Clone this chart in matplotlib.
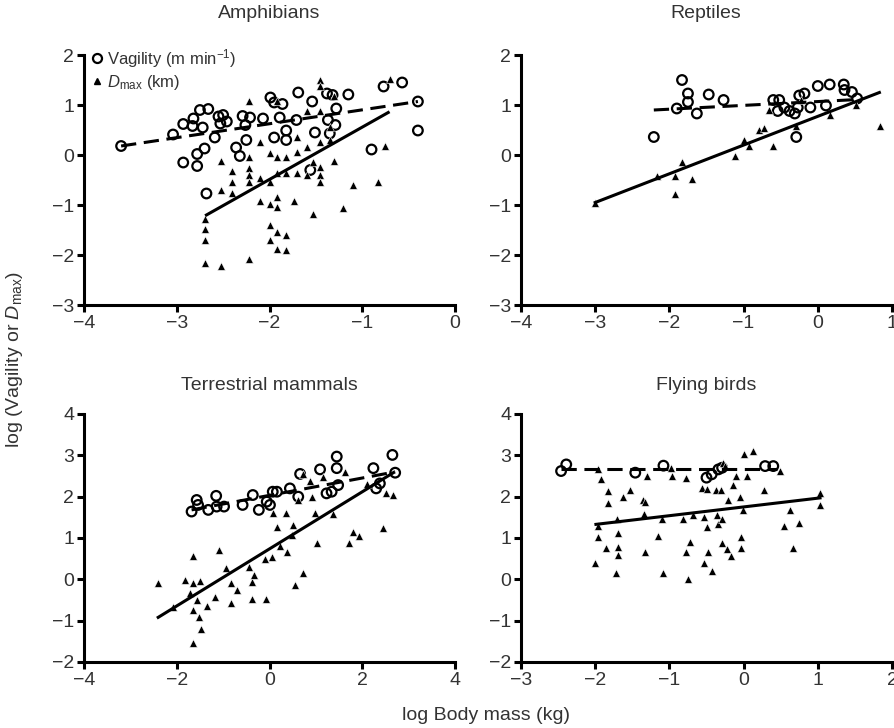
import matplotlib
matplotlib.use("Agg")
import matplotlib.pyplot as plt
from matplotlib.lines import Line2D

plt.rcParams['font.family'] = ['Liberation Sans', 'DejaVu Sans']
plt.rcParams['mathtext.fontset'] = 'custom'
plt.rcParams['mathtext.rm'] = 'Liberation Sans'
plt.rcParams['mathtext.it'] = 'Liberation Sans:italic'

# ---------------- Amphibians ----------------
amph_vag_x = [-3.60, -3.04, -2.93, -2.82, -2.83, -2.75, -2.66, -2.72, -2.93, -2.78, -2.78, -2.70,
              -2.68, -2.59, -2.55, -2.50, -2.46, -2.53, -2.36, -2.32, -2.29, -2.26, -2.25, -2.21,
              -2.07, -1.99, -1.95, -1.86, -1.89, -1.95, -1.82, -1.82, -1.71, -1.69, -1.54, -1.51,
              -1.56, -1.38, -1.32, -1.28, -1.29, -1.35, -1.15, -0.90, -0.77, -0.57, -0.40, -0.40,
              -1.37]
amph_vag_y = [0.18, 0.41, 0.62, 0.73, 0.58, 0.90, 0.92, 0.55, -0.15, 0.02, -0.22, 0.13,
              -0.77, 0.35, 0.77, 0.80, 0.67, 0.63, 0.15, -0.02, 0.78, 0.60, 0.30, 0.75,
              0.73, 1.15, 1.05, 1.02, 0.75, 0.35, 0.49, 0.30, 0.70, 1.25, 1.07, 0.45,
              -0.30, 1.23, 1.20, 0.93, 0.60, 0.43, 1.21, 0.11, 1.37, 1.45, 1.07, 0.49,
              0.70]
amph_dmax_x = [-2.70, -2.70, -2.70, -2.70, -2.52, -2.22, -2.52, -2.52, -2.40, -2.40, -2.40, -2.22,
               -2.22, -2.22, -2.22, -2.22, -2.10, -2.10, -2.10, -2.00, -2.00, -2.00, -2.00, -2.00,
               -1.92, -1.92, -1.92, -1.92, -1.92, -1.92, -1.82, -1.82, -1.82, -1.92, -1.82, -1.74,
               -1.70, -1.70, -1.70, -1.60, -1.60, -1.53, -1.53, -1.46, -1.46, -1.46, -1.46, -1.46,
               -1.46, -1.46, -1.60, -1.35, -1.35, -1.30, -1.30, -1.21, -1.10, -0.83, -0.75, -0.70]
amph_dmax_y = [-1.28, -1.47, -1.70, -2.15, -2.22, -2.07, -0.11, -0.69, -0.31, -0.53, -0.75, 1.07,
               -0.03, -0.25, -0.40, -0.53, 0.27, -0.45, -0.92, -0.53, 0.05, -0.97, -1.40, -1.70,
               -0.03, -0.35, -0.83, -1.03, -1.53, -1.87, -0.03, -1.60, -1.89, 1.07, -0.35, -0.92,
               0.37, 0.07, -0.35, 0.17, -0.40, -0.13, -1.18, 1.50, 1.37, -0.23, -0.40, -0.53,
               0.27, 0.87, 0.87, 0.55, 0.30, -0.11, 1.18, -1.05, -0.60, -0.53, 0.18, 1.51]
amph_vag_fit = ([-3.60, -0.40], [0.18, 1.07])
amph_dmax_fit = ([-2.68, -0.72], [-1.20, 0.85])

# ---------------- Reptiles ----------------
rept_vag_x = [-2.21, -1.90, -1.83, -1.75, -1.75, -1.63, -1.47, -1.27, -0.60, -0.52, -0.54, -0.45,
              -0.38, -0.31, -0.27, -0.29, -0.25, -0.18, -0.10, 0.00, 0.11, 0.16, 0.35, 0.36,
              0.46, 0.53]
rept_vag_y = [0.36, 0.93, 1.50, 1.23, 1.06, 0.83, 1.21, 1.10, 1.10, 1.10, 0.88, 0.95,
              0.88, 0.83, 0.95, 0.36, 1.19, 1.23, 0.95, 1.38, 0.99, 1.41, 1.41, 1.30,
              1.26, 1.13]
rept_dmax_x = [-3.00, -2.17, -1.93, -1.93, -1.83, -1.70, -1.11, -1.00, -0.93, -0.79, -0.73, -0.66,
               -0.61, -0.29, 0.17, 0.52, 0.84, -0.22]
rept_dmax_y = [-0.95, -0.41, -0.41, -0.77, -0.14, -0.48, -0.01, 0.30, 0.19, 0.51, 0.54, 0.90,
               0.19, 0.58, 0.79, 0.99, 0.59, 1.10]
rept_vag_fit = ([-2.21, 0.54], [0.90, 1.11])
rept_dmax_fit = ([-3.00, 0.83], [-0.95, 1.25])

# ---------------- Terrestrial mammals ----------------
mamm_vag_x = [-1.68, -1.57, -1.54, -1.32, -1.15, -1.14, -0.98, -0.58, -0.36, -0.23, -0.06, 0.07,
              0.16, 0.01, 0.62, 0.66, 1.09, 1.23, 1.34, 1.45, 1.45, 1.48, 2.24, 2.30,
              2.38, 2.65, 2.71, 0.44]
mamm_vag_y = [1.64, 1.92, 1.80, 1.68, 2.02, 1.76, 1.76, 1.80, 2.04, 1.68, 1.88, 2.12,
              2.12, 1.80, 2.00, 2.55, 2.66, 2.08, 2.12, 2.97, 2.69, 2.28, 2.69, 2.20,
              2.32, 3.01, 2.58, 2.20]
mamm_dmax_x = [-2.40, -2.09, -1.82, -1.64, -1.64, -1.71, -1.50, -1.57, -1.64, -1.51, -1.48, -1.35,
               -1.18, -1.08, -0.94, -0.82, -0.82, -0.70, -0.44, -0.38, -0.38, -0.33, -0.08, -0.10,
               0.05, 0.07, 0.17, 0.23, 0.36, 0.38, 0.48, 0.50, 0.55, 0.62, 0.72, 0.73,
               0.87, 0.91, 0.98, 1.03, 1.16, 1.38, 1.63, 1.72, 1.81, 1.94, 2.10, 2.44,
               2.51, 2.67, -1.64]
mamm_dmax_y = [-0.10, -0.68, -0.02, 0.56, -0.08, -0.34, -0.03, -0.50, -0.73, -0.92, -1.21, -0.65,
               -0.42, 0.71, 0.27, -0.08, -0.58, -0.26, 0.31, -0.06, -0.48, 0.10, -0.48, 0.48,
               0.55, 1.61, 1.27, 0.81, 1.61, 0.67, 1.07, 1.31, -0.14, 1.92, 2.56, 0.15,
               2.39, 2.00, 1.60, 0.89, 2.47, 1.58, 2.60, 0.89, 1.15, 1.05, 2.31, 1.23,
               2.10, 2.04, -1.55]
mamm_vag_fit = ([-1.68, 2.71], [1.68, 2.60])
mamm_dmax_fit = ([-2.40, 2.67], [-0.92, 2.58])

# ---------------- Flying birds ----------------
bird_vag_x = [-2.46, -2.39, -1.46, -1.08, -0.50, -0.43, -0.34, -0.29, 0.29, 0.40]
bird_vag_y = [2.62, 2.78, 2.58, 2.75, 2.46, 2.54, 2.66, 2.70, 2.74, 2.74]
bird_dmax_x = [-2.00, -1.96, -1.96, -1.96, -1.92, -1.85, -1.83, -1.83, -1.72, -1.71, -1.69, -1.69,
               -1.69, -1.62, -1.53, -1.36, -1.33, -1.34, -1.30, -1.33, -1.15, -1.10, -1.09, -0.98,
               -0.96, -0.82, -0.77, -0.77, -0.72, -0.75, -0.68, -0.56, -0.54, -0.53, -0.49, -0.49,
               -0.48, -0.42, -0.37, -0.36, -0.34, -0.31, -0.29, -0.29, -0.28, -0.25, -0.22, -0.21,
               -0.17, -0.14, -0.10, -0.05, -0.04, -0.04, -0.01, 0.01, 0.04, 0.12, 0.27, 0.49,
               0.55, 0.63, 0.67, 0.75, 1.03, 1.03]
bird_dmax_y = [0.39, 2.66, 1.28, 1.03, 2.43, 0.77, 2.13, 1.85, 0.16, 1.45, 1.11, 0.79,
               0.58, 2.00, 2.17, 1.92, 1.87, 1.59, 2.51, 0.66, 1.05, 1.47, 0.16, 2.70,
               2.50, 1.47, 2.46, 0.66, 0.90, 0.02, 1.55, 2.21, 1.51, 0.39, 2.19, 1.27,
               0.66, 0.20, 2.16, 1.55, 1.33, 2.16, 1.45, 0.89, 2.82, 2.74, 0.74, 1.93,
               0.56, 2.29, 2.51, 2.00, 1.03, 0.77, 1.67, 3.04, 2.50, 3.10, 2.17, 2.62,
               1.29, 1.67, 0.77, 1.37, 2.09, 1.79]
bird_vag_fit = ([-2.46, 0.45], [2.66, 2.66])
bird_dmax_fit = ([-1.99, 1.03], [1.33, 1.97])

titles = ["Amphibians", "Reptiles", "Terrestrial mammals", "Flying birds"]
xlims = [(-4, 0), (-4, 1), (-4, 4), (-3, 2)]
ylims = [(-3, 2), (-3, 2), (-2, 4), (-2, 4)]
xticks = [[-4, -3, -2, -1, 0], [-4, -3, -2, -1, 0, 1], [-4, -2, 0, 2, 4], [-3, -2, -1, 0, 1, 2]]
yticks = [[-3, -2, -1, 0, 1, 2], [-3, -2, -1, 0, 1, 2], [-2, -1, 0, 1, 2, 3, 4], [-2, -1, 0, 1, 2, 3, 4]]

panels = [
    (amph_vag_x, amph_vag_y, amph_dmax_x, amph_dmax_y, amph_vag_fit, amph_dmax_fit),
    (rept_vag_x, rept_vag_y, rept_dmax_x, rept_dmax_y, rept_vag_fit, rept_dmax_fit),
    (mamm_vag_x, mamm_vag_y, mamm_dmax_x, mamm_dmax_y, mamm_vag_fit, mamm_dmax_fit),
    (bird_vag_x, bird_vag_y, bird_dmax_x, bird_dmax_y, bird_vag_fit, bird_dmax_fit),
]

W, H = 894, 728
fig = plt.figure(figsize=(W / 100, H / 100), dpi=100)

# axes rectangles in pixels: left, top, right, bottom
rects = [(84, 55, 455, 305), (521, 55, 892, 305), (84, 414, 455, 662), (521, 414, 892, 662)]
title_pos = [(269, 14), (706, 14), (269, 386), (706, 386)]

tick_color = '#333333'
fs = 14

for i, (vx, vy, dx, dy, vfit, dfit) in enumerate(panels):
    l, t, r, b = rects[i]
    ax = fig.add_axes([l / W, 1 - b / H, (r - l) / W, (b - t) / H])
    ax.scatter(vx, vy, s=48, facecolors='none', edgecolors='black', linewidths=1.6, zorder=2,
               clip_on=False)
    ax.scatter(dx, dy, s=32, marker='^', facecolors='black', edgecolors='white', linewidths=0.4,
               zorder=3, clip_on=False)
    ax.plot(vfit[0], vfit[1], color='black', lw=2.2, linestyle=(0, (5, 2.5)), zorder=4,
            solid_capstyle='butt', dash_capstyle='butt')
    ax.plot(dfit[0], dfit[1], color='black', lw=2.2, linestyle='-', zorder=4)
    ax.set_xlim(*xlims[i])
    ax.set_ylim(*ylims[i])
    ax.set_xticks(xticks[i])
    ax.set_yticks(yticks[i])
    for sp in ['top', 'right']:
        ax.spines[sp].set_visible(False)
    for sp in ['left', 'bottom']:
        ax.spines[sp].set_linewidth(2.2)
        ax.spines[sp].set_capstyle('projecting')
    ax.tick_params(axis='both', direction='out', length=5, width=2.2, labelsize=fs,
                   labelcolor=tick_color, color='black', pad=2)
    fig.text(title_pos[i][0] / W, 1 - title_pos[i][1] / H, titles[i], ha='center', va='center',
             fontsize=fs, color=tick_color)
    if i == 0:
        handles = [
            Line2D([], [], marker='o', linestyle='none', markerfacecolor='none',
                   markeredgecolor='black', markeredgewidth=1.6, markersize=6.5),
            Line2D([], [], marker='^', linestyle='none', markerfacecolor='black',
                   markeredgecolor='black', markersize=5),
        ]
        ax.legend(handles, [r'Vagility (m min$^{-1}$)', r'$D_{\rm max}$ (km)'],
                  loc='upper left', bbox_to_anchor=(-0.02, 1.08), frameon=False, fontsize=12,
                  handletextpad=0.15, handlelength=1.0, borderaxespad=0.3, labelspacing=0.2,
                  labelcolor=tick_color)

fig.text(15 / W, 1 - 360 / H, r'log (Vagility or $D_{\rm max}$)', rotation=90, ha='center',
         va='center', fontsize=fs, color=tick_color)
fig.text(486 / W, 1 - 715 / H, 'log Body mass (kg)', ha='center', va='center', fontsize=fs,
         color=tick_color)

fig.savefig('out.png', dpi=100)
